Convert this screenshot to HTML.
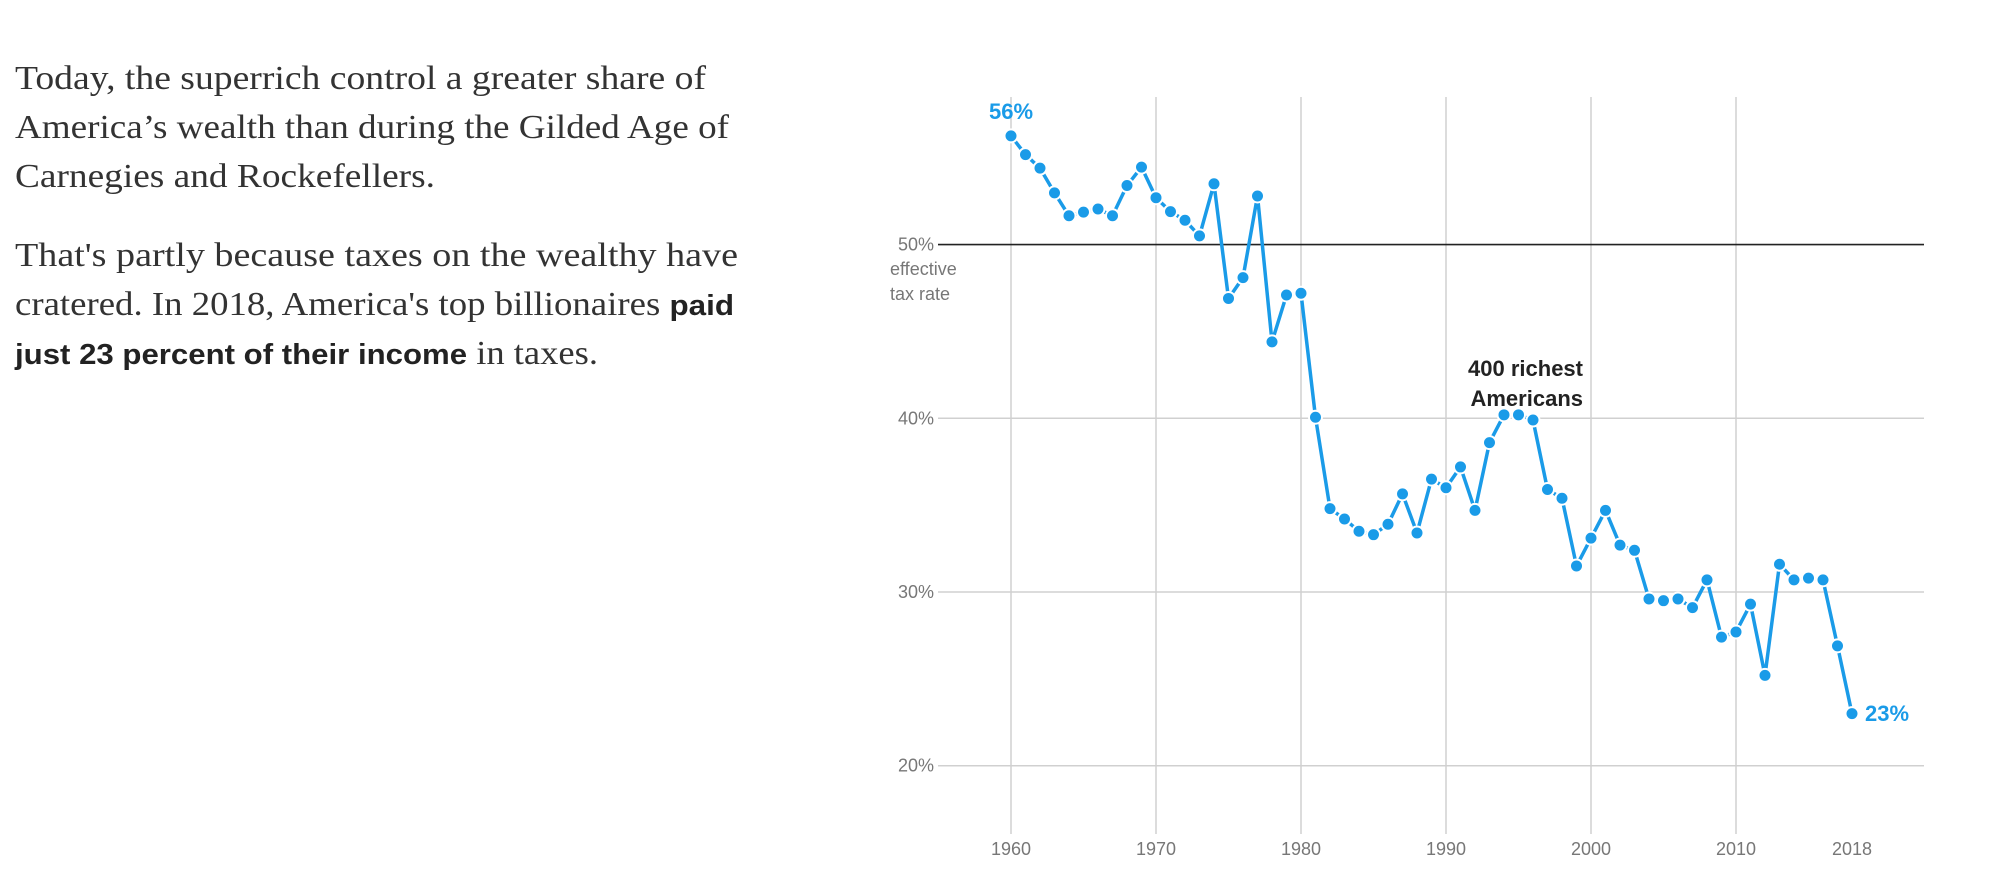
<!DOCTYPE html>
<html><head><meta charset="utf-8"><style>
body{margin:0;background:#fff;width:2000px;height:875px;overflow:hidden;position:relative}
</style></head><body>
<svg width="2000" height="875" style="position:absolute;left:0;top:0">
<g font-family="Liberation Serif, serif" font-size="34" fill="#333">
<text x="15" y="89" textLength="691" lengthAdjust="spacingAndGlyphs">Today, the superrich control a greater share of</text>
<text x="15" y="138" textLength="714" lengthAdjust="spacingAndGlyphs">America’s wealth than during the Gilded Age of</text>
<text x="15" y="187" textLength="420" lengthAdjust="spacingAndGlyphs">Carnegies and Rockefellers.</text>
<text x="15" y="266" textLength="723" lengthAdjust="spacingAndGlyphs">That's partly because taxes on the wealthy have</text>
<text x="15" y="315" textLength="719" lengthAdjust="spacingAndGlyphs">cratered. In 2018, America's top billionaires <tspan font-family="Liberation Sans, sans-serif" font-weight="bold" font-size="29" fill="#222">paid</tspan></text>
<text x="15" y="364" textLength="583" lengthAdjust="spacingAndGlyphs"><tspan font-family="Liberation Sans, sans-serif" font-weight="bold" font-size="29" fill="#222">just 23 percent of their income</tspan> in taxes.</text>
</g>
</svg>
<svg id="c" width="2000" height="875" style="position:absolute;left:0;top:0" font-family="Liberation Sans, sans-serif"></svg>
<script>
const s=document.getElementById('c');const NS='http://www.w3.org/2000/svg';
function el(t,a,txt){const e=document.createElementNS(NS,t);for(const k in a)e.setAttribute(k,a[k]);if(txt!==undefined)e.textContent=txt;s.appendChild(e);return e;}
const X=y=>1011+(y-1960)*14.5, Y=v=>765.7-(v-20)*17.37;
for(let d=1960;d<=2010;d+=10){el('line',{x1:X(d),x2:X(d),y1:97,y2:834,stroke:'#d0d0d0','stroke-width':1.5});el('text',{x:X(d),y:855,'text-anchor':'middle','font-size':18,fill:'#777'},d);}
el('text',{x:X(2018),y:855,'text-anchor':'middle','font-size':18,fill:'#777'},'2018');
[20,30,40].forEach(v=>{el('line',{x1:938,x2:1924,y1:Y(v),y2:Y(v),stroke:'#d0d0d0','stroke-width':1.5});el('text',{x:934,y:Y(v)+6,'text-anchor':'end','font-size':18,fill:'#777'},v+'%');});
el('line',{x1:938,x2:1924,y1:Y(50),y2:Y(50),stroke:'#222','stroke-width':1.6});
el('text',{x:934,y:Y(50)+6,'text-anchor':'end','font-size':18,fill:'#777'},'50%');
el('text',{x:890,y:275,'font-size':18,fill:'#777'},'effective');
el('text',{x:890,y:300,'font-size':18,fill:'#777'},'tax rate');
const v=[56.26,55.18,54.4,52.98,51.66,51.87,52.05,51.66,53.4,54.46,52.7,51.9,51.4,50.5,53.5,46.9,48.1,52.8,44.4,47.1,47.2,40.06,34.8,34.2,33.5,33.3,33.9,35.65,33.4,36.5,36.0,37.2,34.7,38.6,40.2,40.2,39.9,35.9,35.4,31.5,33.1,34.7,32.7,32.4,29.6,29.5,29.6,29.1,30.7,27.4,27.7,29.3,25.2,31.6,30.7,30.8,30.7,26.9,23.0];
const C='#1a9be8';
el('polyline',{points:v.map((d,i)=>X(1960+i)+','+Y(d)).join(' '),fill:'none',stroke:C,'stroke-width':3.5,'stroke-linejoin':'round'});
v.forEach((d,i)=>el('circle',{cx:X(1960+i),cy:Y(d),r:6.5,fill:C,stroke:'#fff','stroke-width':2}));
el('text',{x:1583,y:376,'text-anchor':'end','font-size':22,'font-weight':'bold',fill:'#222',stroke:'#fff','stroke-width':6,'paint-order':'stroke'},'400 richest');
el('text',{x:1583,y:406,'text-anchor':'end','font-size':22,'font-weight':'bold',fill:'#222',stroke:'#fff','stroke-width':6,'paint-order':'stroke'},'Americans');
el('text',{x:1011,y:119,'text-anchor':'middle','font-size':22,'font-weight':'bold',fill:C},'56%');
el('text',{x:1865,y:721,'font-size':22,'font-weight':'bold',fill:C},'23%');
</script>
</body></html>
